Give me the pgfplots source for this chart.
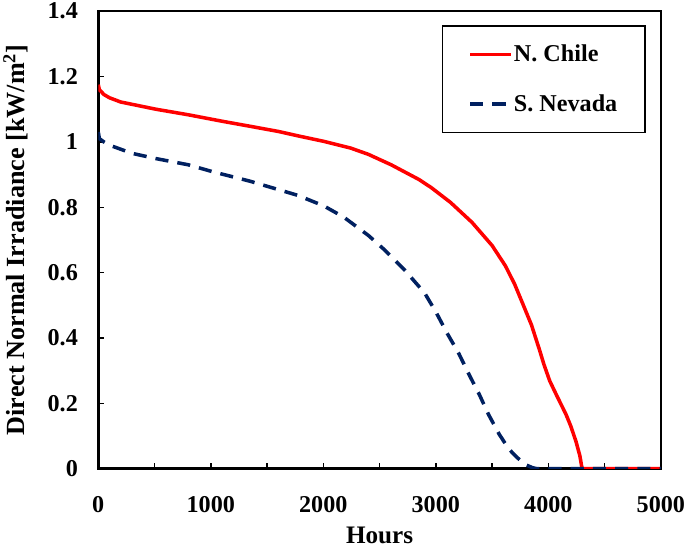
\documentclass[border=0pt]{standalone}
\usepackage{pgfplots}
\pgfplotsset{compat=1.18}
\usepackage{fontspec}
\setmainfont{Liberation Serif}
\definecolor{navy}{RGB}{0,32,96}
\begin{document}
\begin{tikzpicture}[x=1bp,y=1bp]
\begin{axis}[
  scale only axis,
  width=557bp, height=453bp,
  xmin=0, xmax=5000, ymin=0, ymax=1.4,
  xtick={0,1000,...,5000},
  minor xtick={500,1500,...,4500},
  ytick={0,0.2,...,1.4},
  tick align=inside,
  xtick pos=bottom, ytick pos=left,
  major tick length=6bp, minor tick length=6bp,
  every tick/.style={black, line width=1.5bp},
  axis line style={line width=2.5bp},
  /pgf/number format/assume math mode=true,
  /pgf/number format/1000 sep={},
  ticklabel style={font=\fontsize{24}{24}\selectfont\bfseries, inner xsep=0pt, inner ysep=3bp},
  xticklabel style={anchor=base, yshift=-43bp},
  yticklabel style={anchor=east, xshift=-20bp},
  xlabel={Hours},
  ylabel={Direct Normal Irradiance [kW/m\textsuperscript{2}]},
  xlabel style={font=\fontsize{25}{25}\selectfont\bfseries, inner sep=4bp,
    at={(axis description cs:0.5,-0.164)}, anchor=base},
  ylabel style={font=\fontsize{26}{26}\selectfont\bfseries,
    at={(axis description cs:-0.131,0.5)}, anchor=base},
  legend style={at={(0.973,0.969)}, anchor=north east, draw=black, line width=1.2bp,
    font=\fontsize{24}{24}\selectfont\bfseries, inner xsep=26bp, inner ysep=17bp,
    row sep=27bp, cells={anchor=west}, nodes={inner xsep=1.5bp}},
  legend image code/.code={\draw[#1] (0bp,0bp) -- (40bp,0bp);},
]
\addplot[red, line width=3.5bp] coordinates {
(0,1.175) (10,1.16) (50,1.145) (100,1.135) (200,1.122) (300,1.115) (512,1.10)
(800,1.083) (1104,1.063) (1346,1.048) (1600,1.032) (1795,1.017) (2000,1.002)
(2244,0.981) (2400,0.962) (2603,0.930) (2850,0.885) (2960,0.86) (3130,0.815)
(3321,0.754) (3500,0.683) (3618,0.621) (3700,0.565) (3770,0.507)
(3850,0.44) (3923,0.362) (3960,0.32) (4012,0.269) (4080,0.22) (4156,0.167)
(4200,0.13) (4246,0.083) (4280,0.04) (4300,0) (5000,0)
};
\addlegendentry{N. Chile}
\addplot[navy, line width=3.5bp, dash pattern=on 13bp off 9bp] coordinates {
(0,1.03) (10,1.01) (50,1.0) (100,0.99) (300,0.965) (512,0.949) (800,0.93)
(1014,0.909) (1346,0.88) (1768,0.837) (2000,0.805) (2181,0.77) (2400,0.714)
(2540,0.671) (2720,0.609) (2900,0.538) (3000,0.48) (3100,0.415) (3205,0.352)
(3300,0.285) (3384,0.229) (3470,0.165) (3564,0.105) (3650,0.06) (3720,0.035)
(3800,0.012) (3860,0.003) (3900,0) (5000,0)
};
\addlegendentry{S. Nevada}
\end{axis}
\end{tikzpicture}
\end{document}
